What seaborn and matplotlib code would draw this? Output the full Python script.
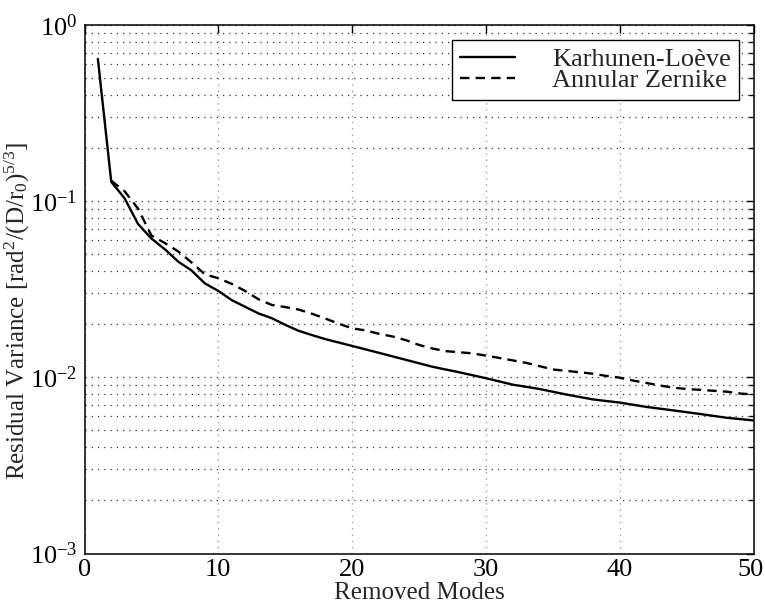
import numpy as np
import pandas as pd
import matplotlib
matplotlib.use("Agg")
import matplotlib.pyplot as plt
import matplotlib.transforms as mtransforms
from matplotlib.ticker import LogLocator, NullFormatter, FixedLocator
from matplotlib.lines import Line2D
import seaborn as sns

# Residual phase variance after removing the first N modes
kl_modes = [1, 2, 3, 4, 5, 6, 7, 8, 9, 10, 11, 12, 13, 14, 15, 16, 17, 18, 20,
            22, 24, 26, 28, 30, 32, 34, 36, 38, 40, 42, 44, 46, 48, 50]
kl_variance = [0.644, 0.129, 0.104, 0.0744, 0.0615, 0.0535, 0.0455, 0.0405,
               0.0342, 0.0310, 0.0275, 0.0252, 0.0231, 0.0217, 0.0199, 0.0184,
               0.0174, 0.0165, 0.0151, 0.0138, 0.0126, 0.0115, 0.0107, 0.0099,
               0.0091, 0.0086, 0.0080, 0.0075, 0.0072, 0.0068, 0.0065, 0.0062,
               0.0059, 0.0057]

az_modes = list(range(2, 51))
az_variance = [0.131, 0.114, 0.091, 0.064, 0.058, 0.052, 0.045, 0.0385, 0.0366,
               0.0340, 0.0310, 0.0278, 0.0258, 0.0251, 0.0243, 0.0230, 0.0216,
               0.0202, 0.0190, 0.0185, 0.0177, 0.0171, 0.0163, 0.0153, 0.0146,
               0.0141, 0.0139, 0.0137, 0.0133, 0.0129, 0.0125, 0.0121, 0.0116,
               0.0111, 0.0109, 0.0107, 0.0105, 0.0102, 0.00997, 0.0096, 0.0093,
               0.0090, 0.00875, 0.0086, 0.0085, 0.0084, 0.0083, 0.0081, 0.0080]

series_names = ["Karhunen-Loève", "Annular Zernike"]
x_ticks = [0, 10, 20, 30, 40, 50]

df = pd.concat([
    pd.DataFrame({"mode": kl_modes, "variance": kl_variance, "basis": series_names[0]}),
    pd.DataFrame({"mode": az_modes, "variance": az_variance, "basis": series_names[1]}),
], ignore_index=True)

sns.set_theme(style="white")
plt.rcParams["font.family"] = ["Liberation Serif", "DejaVu Serif"]
plt.rcParams["mathtext.fontset"] = "custom"
plt.rcParams["mathtext.rm"] = "Liberation Serif"
plt.rcParams["mathtext.it"] = "Liberation Serif:italic"
plt.rcParams["mathtext.bf"] = "Liberation Serif:bold"
plt.rcParams["axes.unicode_minus"] = False

tick_fs = 19
label_fs = 18
legend_fs = 19

fig = plt.figure(figsize=(7.65, 6.07), dpi=100)
ax = fig.add_axes([84.5 / 765, 1 - 553.5 / 607, (753.5 - 84.5) / 765, (553.5 - 25.3) / 607])

dash = (0, (4.0, 2.6))
sns.lineplot(data=df, x="mode", y="variance", hue="basis", style="basis",
             palette={series_names[0]: "black", series_names[1]: "black"},
             dashes={series_names[0]: "", series_names[1]: (4.0, 2.6)},
             linewidth=1.7, ax=ax, legend=False, estimator=None, sort=False)

ax.set_yscale("log")
ax.set_xlim(0, 50)
ax.set_ylim(1e-3, 1e0)
ax.xaxis.set_major_locator(FixedLocator(x_ticks))
ax.yaxis.set_major_locator(LogLocator(base=10, numticks=10))
ax.yaxis.set_minor_locator(LogLocator(base=10, subs=np.arange(2, 10), numticks=20))
ax.yaxis.set_minor_formatter(NullFormatter())

# dotted grid on major and minor decades
ax.grid(True, which="major", axis="x", linestyle=(0, (1, 4)), color="0.55", linewidth=0.9)
ax.grid(True, which="both", axis="y", linestyle=(0, (1, 4)), color="0.2", linewidth=0.9)
ax.set_axisbelow(True)

ax.tick_params(axis="both", which="both", direction="in", top=True, right=True,
               colors="black", labelsize=tick_fs)
ax.tick_params(which="major", length=6, width=1)
ax.tick_params(which="minor", length=3.5, width=1)
ax.tick_params(axis="x", pad=4)
ax.tick_params(axis="y", pad=5)
for s in ax.spines.values():
    s.set_color("black")
    s.set_linewidth(1.1)

# keep the last x tick label inside the figure edge
shift = mtransforms.ScaledTranslation(-3 / 100, 0, fig.dpi_scale_trans)
last = ax.get_xticklabels()[-1]
last.set_transform(last.get_transform() + shift)

ax.set_xlabel("Removed Modes", fontsize=label_fs, labelpad=1)
ax.set_ylabel(r"Residual Variance [rad$^2$/(D/r$_0$)$^{5/3}$]", fontsize=label_fs)
ax.yaxis.set_label_coords(-0.079, 0.46)

handles = [Line2D([], [], color="black", lw=1.7),
           Line2D([], [], color="black", lw=1.7, linestyle=dash)]
leg = ax.legend(handles, series_names, loc="upper right", fontsize=legend_fs,
                frameon=True, fancybox=False, edgecolor="black", framealpha=1,
                handlelength=2.1, handletextpad=1.4, borderpad=0.3,
                labelspacing=-0.1, borderaxespad=0.55)
leg.get_frame().set_linewidth(1.0)

fig.savefig("out.png", dpi=100)
